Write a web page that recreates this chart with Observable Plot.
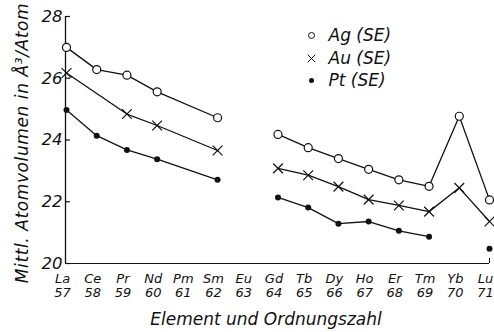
<!DOCTYPE html>
<html>
<head>
<meta charset="utf-8">
<script src="https://cdn.jsdelivr.net/npm/d3@7"></script>
<script src="https://cdn.jsdelivr.net/npm/@observablehq/plot@0.6"></script>
<style>
  html, body { margin: 0; padding: 0; background: #fff; }
  svg { font-family: "DejaVu Sans", sans-serif; font-style: oblique; }
</style>
</head>
<body>
<div id="chart"></div>
<script>
const elements = ["La","Ce","Pr","Nd","Pm","Sm","Eu","Gd","Tb","Dy","Ho","Er","Tm","Yb","Lu"];
const numbers  = [57,58,59,60,61,62,63,64,65,66,67,68,69,70,71];
const ag = [27.0, 26.28, 26.1, 25.56, null, 24.72, null, 24.18, 23.75, 23.4, 23.05, 22.71, 22.5, 24.77, 22.06];
const au = [26.17, null, 24.84, 24.47, null, 23.66, null, 23.08, 22.86, 22.49, 22.07, 21.88, 21.68, 22.45, 21.36];
const pt = [24.97, 24.14, 23.68, 23.38, null, 22.71, null, 22.14, 21.81, 21.29, 21.36, 21.06, 20.87, null, 20.48];
const seriesNames = ["Ag (SE)", "Au (SE)", "Pt (SE)"];
// line segments restart at these elements
const breaksAg = ["Gd"];
const breaksAu = ["Gd"];
const breaksPt = ["Gd", "Lu"];
const yTicks = [20, 22, 24, 26, 28];
const xTitle = "Element und Ordnungszahl";
const yTitle = "Mittl. Atomvolumen in Å³/Atom";

function rows(values, name, breaks) {
  const out = [];
  let seg = 0;
  values.forEach((v, i) => {
    if (breaks.includes(elements[i])) seg++;
    if (v != null) out.push({n: numbers[i], el: elements[i], v, series: name, seg: name + seg});
  });
  return out;
}
const agRows = rows(ag, seriesNames[0], breaksAg);
const auRows = rows(au, seriesNames[1], breaksAu);
const ptRows = rows(pt, seriesNames[2], breaksPt);

const symOf = Object.fromEntries(elements.map((e, i) => [numbers[i], e]));
const lineOpts = {x: "n", y: "v", z: "seg", stroke: "#111", strokeWidth: 1.3};

const legend = [
  {name: seriesNames[0], dy: 19, mark: o => Plot.dot([0], {...o, r: 3, fill: "white", stroke: "#111", strokeWidth: 1})},
  {name: seriesNames[1], dy: 42, mark: o => Plot.dot([0], {...o, r: 3.5, symbol: "times", stroke: "#111", strokeWidth: 1})},
  {name: seriesNames[2], dy: 64, mark: o => Plot.dot([0], {...o, r: 2.5, fill: "#111"})}
];

const plot = Plot.plot({
  width: 494,
  height: 332,
  marginLeft: 66,
  marginRight: 5,
  marginTop: 16,
  marginBottom: 69,
  x: {domain: [57, 71], axis: null},
  y: {domain: [20, 28], axis: null},
  style: {background: "white", color: "#111"},
  marks: [
    Plot.ruleX([57], {stroke: "#111", strokeWidth: 1.3, dx: -1}),
    Plot.ruleY([20], {stroke: "#111", strokeWidth: 1}),
    Plot.axisY({ticks: yTicks, anchor: "left", label: null, tickSize: -5, tickPadding: 8, fontSize: 16.5, dx: -1, strokeWidth: 1.2}),
    Plot.axisX({ticks: [71], anchor: "bottom", label: null, tickSize: -5, tickFormat: () => "", strokeWidth: 1}),
    Plot.axisX({ticks: numbers, anchor: "bottom", label: null, tickSize: 0, tickPadding: 9, fontSize: 13, lineHeight: 1.1, dx: -4,
      tickFormat: n => `${symOf[n]}\n${n}`}),
    Plot.text([xTitle], {frameAnchor: "bottom", dx: -12, dy: 56, fontSize: 17, lineAnchor: "middle"}),
    Plot.text([yTitle], {frameAnchor: "left", rotate: -90, dx: -44, dy: 3, fontSize: 17, textAnchor: "middle", lineAnchor: "middle"}),
    Plot.line(agRows, lineOpts),
    Plot.line(auRows, lineOpts),
    Plot.line(ptRows, lineOpts),
    Plot.dot(agRows, {x: "n", y: "v", r: 4, fill: "white", stroke: "#111", strokeWidth: 1.2}),
    Plot.dot(auRows, {x: "n", y: "v", r: 4.5, symbol: "times", stroke: "#111", strokeWidth: 1.2}),
    Plot.dot(ptRows, {x: "n", y: "v", r: 3, fill: "#111"}),
    ...legend.map(d => d.mark({frameAnchor: "top-left", dx: 245, dy: d.dy})),
    ...legend.map(d => Plot.text([d.name], {frameAnchor: "top-left", dx: 262, dy: d.dy, textAnchor: "start", lineAnchor: "middle", fontSize: 17}))
  ]
});
// slightly wider letter spacing on the rotated axis title, as in the lettering of the reference
d3.select(plot).selectAll("text").filter(function () { return this.textContent === yTitle; })
  .style("letter-spacing", "0.6px");
document.getElementById("chart").appendChild(plot);
</script>
</body>
</html>
